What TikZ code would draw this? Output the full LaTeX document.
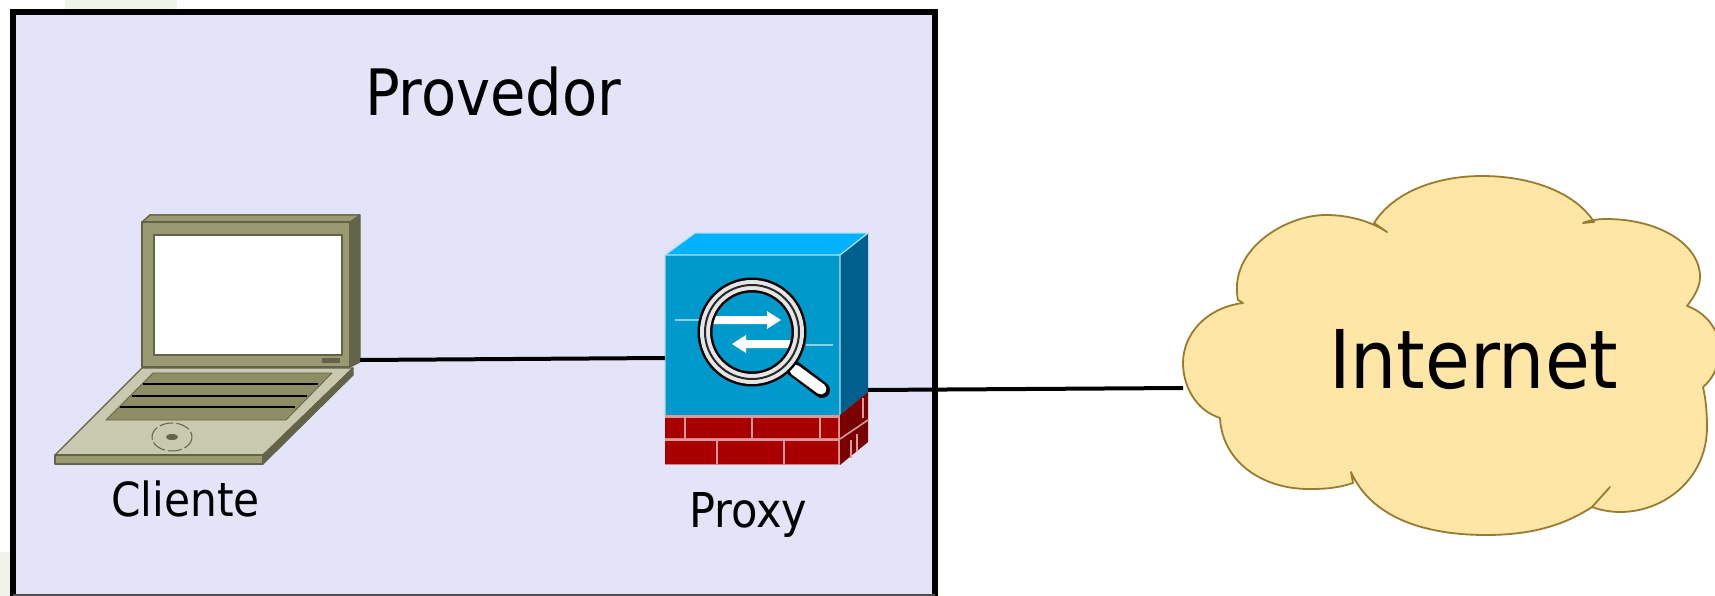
\documentclass[tikz,border=0pt]{standalone}
\usepackage{fontspec}
\setmainfont{DejaVu Sans Condensed}
\usetikzlibrary{positioning}

\definecolor{provfill}{HTML}{E4E4F9}
\definecolor{lapframe}{HTML}{9A9A72}
\definecolor{lapdark}{HTML}{63634A}
\definecolor{lapbase}{HTML}{C9C9B0}
\definecolor{lapkeys}{HTML}{8E8E66}
\definecolor{boxfront}{HTML}{0099CC}
\definecolor{boxtop}{HTML}{00B2FF}
\definecolor{boxside}{HTML}{005F8C}
\definecolor{brick}{HTML}{A80000}
\definecolor{brickside}{HTML}{780000}
\definecolor{cloudfill}{HTML}{FEE6A6}
\definecolor{cloudline}{HTML}{9A7B2E}
\definecolor{patch}{HTML}{F0F3E8}

\begin{document}
\begin{tikzpicture}[x=1pt, y=-1pt, line join=round,
  label/.style={inner sep=0pt, anchor=base west, text=black},
  wire/.style={line width=4pt, black},
  lapedge/.style={draw=lapdark, line width=1.2pt},
  brickline/.style={line width=1.6pt, white!60!brick}]

\useasboundingbox (0,0) rectangle (1715,596);

% faint marks outside the box
\fill[patch] (65,0) rectangle (177,9);
\fill[patch] (0,552) rectangle (10,596);

% provider box
\fill[provfill] (13,12) rectangle (935,596);
\draw[line width=5.5pt, black, line join=miter] (13,596) -- (13,12) -- (935,12) -- (935,596);
\draw[line width=2pt, black!70] (13,595) -- (935,595);
\node[label, font=\fontsize{64}{64}\selectfont] (provedor) at (365,116) {Provedor};

% laptop
\fill[lapedge, fill=lapdark] (142,222) -- (150,215) -- (360,215) -- (360,362) -- (350,367) -- (350,222) -- cycle;
\fill[lapedge, fill=lapframe] (150,215) -- (360,215) -- (350,222) -- (142,222) -- cycle;
\fill[lapedge, fill=lapframe] (142,222) rectangle (350,367);
\fill[lapedge, fill=white, draw=lapdark] (154,235) rectangle (342,355);
\fill[lapdark] (322,358) rectangle (340,363);
\fill[lapedge, fill=lapbase] (142,368) -- (353,368) -- (263,455) -- (55,455) -- cycle;
\fill[lapedge, fill=lapframe] (55,455) rectangle (263,464);
\fill[lapedge, fill=lapdark] (263,455) -- (353,368) -- (353,375) -- (263,464) -- cycle;
\fill[lapedge, fill=lapkeys, line width=.8pt] (153,373) -- (332,373) -- (286,420) -- (106,420) -- cycle;
\foreach \ky/\kl/\kr in {384/143/318, 396/132/307, 407/120/295}
  \draw[line width=2.5pt, black] (\kl,\ky) -- (\kr,\ky);
\draw[lapdark, line width=1pt, dash pattern=on 14pt off 3pt] (172,437) ellipse [x radius=20, y radius=14];
\fill[lapdark] (172,437) ellipse [x radius=6, y radius=3];
\node[label, font=\fontsize{47}{47}\selectfont] (cliente) at (111,516) {Cliente};

% proxy
\fill[boxtop] (665,255) -- (695,233) -- (868,233) -- (840,255) -- cycle;
\fill[boxside] (840,255) -- (868,233) -- (868,392) -- (840,415) -- cycle;
\fill[boxfront] (665,255) rectangle (840,415);
\draw[white!70!boxfront, line width=1.2pt] (665,415) -- (665,255) -- (840,255) -- (840,415) (840,255) -- (868,233) -- (695,233) -- (665,255);
\fill[white!60!brick] (665,415) rectangle (840,465);
\fill[brick] (665,418) rectangle (838,438) (665,441) rectangle (838,464);
\fill[brickside] (840,415) -- (868,392) -- (868,442) -- (840,465) -- cycle;
\foreach \bx in {685,752,820}
  \draw[brickline] (\bx,418) -- (\bx,438);
\foreach \bx in {717,784}
  \draw[brickline] (\bx,441) -- (\bx,464);
\draw[brickline] (840,439) -- (868,420);
\draw[brickline] (863,398) -- (863,418);
\draw[brickline] (851,440) -- (851,458);
\draw[brickline] (857,434) -- (857,452);
\draw[white!55!boxfront, line width=2.5pt] (675,320) -- (700,320) (806,345) -- (833,345);
\fill[white] (712,316) -- (767,316) -- (767,311) -- (781,320) -- (767,329) -- (767,324) -- (712,324) -- cycle;
\fill[white] (792,340) -- (746,340) -- (746,335) -- (732,344) -- (746,353) -- (746,348) -- (792,348) -- cycle;
\draw[black, line width=16pt, line cap=round] (793,368) -- (822,390);
\draw[white, line width=11pt, line cap=round] (795,370) -- (821,389);
\draw[black, line width=15pt] (752,332) circle [radius=47];
\draw[white!90!black, line width=10pt] (752,332) circle [radius=47];
\draw[black!85, line width=2pt] (752,332) circle [radius=47];
\node[label, font=\fontsize{48}{48}\selectfont] (proxy) at (689,527) {Proxy};

% cloud
\path[draw=cloudline, fill=cloudfill, line width=1.8pt] (1238,300)
  .. controls (1228,250) and (1285,215) .. (1326,215)
  .. controls (1350,215) and (1372,222) .. (1387,232) -- (1374,223)
  .. controls (1395,190) and (1440,176) .. (1482,176)
  .. controls (1530,176) and (1575,192) .. (1594,222) -- (1583,223)
  .. controls (1590,220) and (1600,219) .. (1606,219)
  .. controls (1660,219) and (1700,245) .. (1700,277)
  .. controls (1700,288) and (1693,298) .. (1687,306)
  .. controls (1705,312) and (1720,330) .. (1720,350)
  .. controls (1720,365) and (1712,380) .. (1703,387)
  .. controls (1706,400) and (1707,415) .. (1707,427)
  .. controls (1707,478) and (1665,512) .. (1620,512)
  .. controls (1610,512) and (1600,510) .. (1592,507) -- (1610,487) -- (1592,507)
  .. controls (1560,528) and (1525,535) .. (1486,535)
  .. controls (1420,535) and (1370,515) .. (1351,472) -- (1353,483)
  .. controls (1335,489) and (1320,489) .. (1309,489)
  .. controls (1260,489) and (1222,460) .. (1220,418)
  .. controls (1195,410) and (1183,385) .. (1183,363)
  .. controls (1183,335) and (1205,308) .. (1243,303) -- cycle;
\node[label, font=\fontsize{81}{81}\selectfont] (internet) at (1329,388) {Internet};

% links
\coordinate (lapport) at (360,360);
\coordinate (boxin) at (665,358);
\coordinate (boxout) at (868,390);
\coordinate (cloudport) at (1183,388);
\draw[wire] (lapport) -- (boxin);
\draw[wire] (boxout) -- (cloudport);
\end{tikzpicture}
\end{document}
